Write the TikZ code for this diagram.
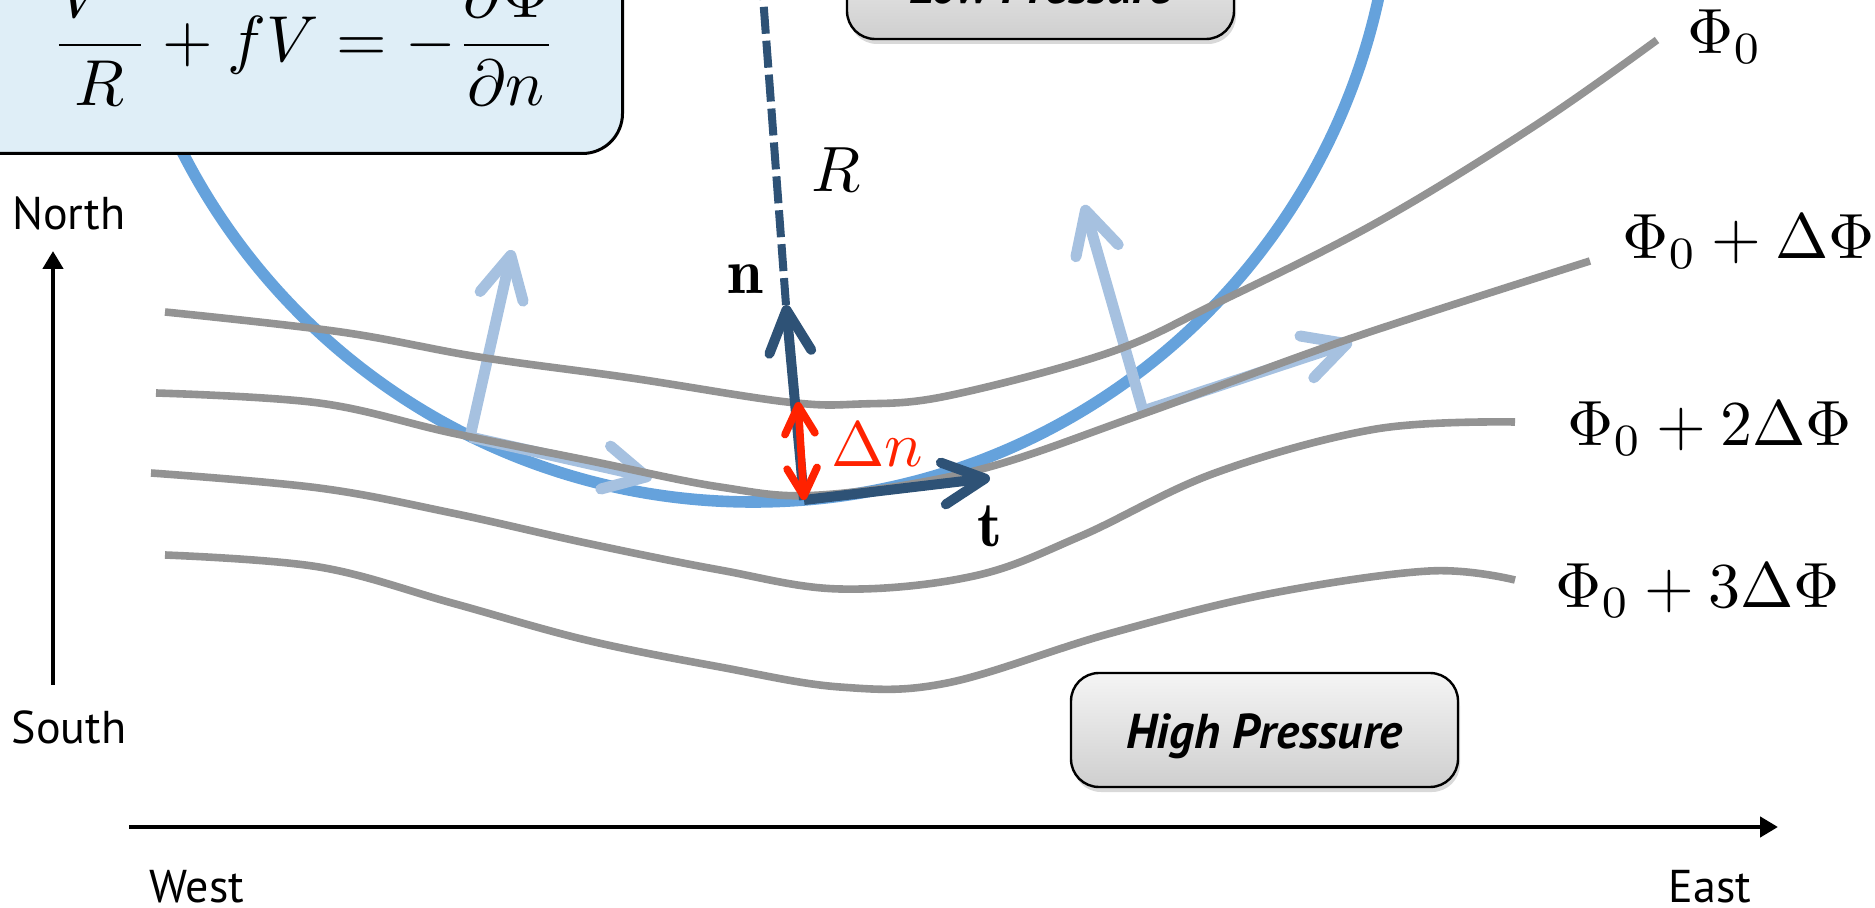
\documentclass[tikz,border=0pt]{standalone}
\usepackage{graphicx}
\usepackage{fontspec}
\newfontfamily\ptsans{PT Sans}
\usetikzlibrary{arrows.meta, positioning, shadows}

\definecolor{ringblue}{HTML}{65A2DC}
\definecolor{flowblue}{HTML}{A6C1E0}
\definecolor{vecblue}{HTML}{2E5276}
\definecolor{isogray}{HTML}{939393}
\definecolor{eqfill}{HTML}{DFEEF7}
\definecolor{dnred}{HTML}{FF2200}

\newcommand{\bigmath}[1]{\scalebox{3.2}{$#1$}}

\tikzset{
	isobar/.style={isogray, line width=3.8pt}
}
\tikzset{
	flowvec/.style={flowblue, line width=5.5pt, -{Straight Barb[length=21pt,width=22pt,round]}},
	unitvec/.style={vecblue, line width=5pt, -{Straight Barb[length=21pt,width=21pt,round]}}
}
\tikzset{
	mathtext/.style={inner sep=0pt},
	philabel/.style={mathtext, anchor=base west},
	compass/.style={font=\ptsans\fontsize{23}{28}\selectfont},
	axisarrow/.style={black, line width=2.4pt, -{Triangle[length=9pt,width=10pt]}}
}
\tikzset{
	pressbox/.style={draw, line width=1.2pt, rounded corners=14pt,
		minimum width=193.5pt, minimum height=57pt,
		top color=gray!8, bottom color=gray!38,
		drop shadow={opacity=0.3, shadow xshift=1pt, shadow yshift=-2.5pt},
		font=\ptsans\bfseries\itshape\fontsize{24.5}{29}\selectfont},
	eqbox/.style={draw, line width=1.5pt, fill=eqfill, rounded corners=20pt,
		minimum width=330pt, minimum height=140pt}
}

\begin{document}
\begin{tikzpicture}[x=0.5pt, y=-0.5pt]
  \useasboundingbox (0,0) rectangle (1875,908);
  \clip (0,0) rectangle (1875,908);

  % circle of curvature
  \coordinate (ctr) at (753,-138);
  \draw[ringblue, line width=5.8pt] (ctr) circle[radius=640];

  % wind vectors
  \coordinate (wbase) at (470,437);
  \coordinate (wup) at (512,250);
  \coordinate (wright) at (652,478);
  \coordinate (ebase) at (1143,411);
  \coordinate (eup) at (1084,205);
  \coordinate (eright) at (1352,342);
  \draw[flowvec] (wbase) -- (wup);
  \draw[flowvec] (wbase) -- (wright);
  \draw[flowvec] (ebase) -- (eup);
  \draw[flowvec] (ebase) -- (eright);

  % geopotential lines
  \draw[isobar] plot[smooth, tension=0.6] coordinates {(165,312) (341,332) (479,357) (631,378) (787,402) (860,404) (947,396) (1108,353) (1215,304) (1376,223) (1536,125) (1657,40)};
  \draw[isobar] plot[smooth, tension=0.6] coordinates {(156,393) (319,403) (452,433) (586,460) (720,487) (820,495) (974,471) (1140,415) (1349,339) (1590,261)};
  \draw[isobar] plot[smooth, tension=0.6] coordinates {(151,473) (319,488) (452,513) (586,543) (720,570) (840,589) (974,576) (1081,536) (1215,473) (1376,429) (1515,422)};
  \draw[isobar] plot[smooth, tension=0.6] coordinates {(165,555) (319,567) (452,603) (586,640) (720,667) (840,687) (947,683) (1108,634) (1268,594) (1429,571) (1515,580)};

  \node[philabel] (phi0) at (1687,54) {\bigmath{\Phi_0}};
  \node[philabel] (phi1) at (1622,259) {\bigmath{\Phi_0+\Delta\Phi}};
  \node[philabel] (phi2) at (1567,446) {\bigmath{\Phi_0+2\Delta\Phi}};
  \node[philabel] (phi3) at (1555,608) {\bigmath{\Phi_0+3\Delta\Phi}};

  % natural coordinates
  \coordinate (base) at (804,500);
  \coordinate (ntip) at (786,305);
  \coordinate (ttip) at (990,478);
  \coordinate (dntop) at (798,402);
  \draw[vecblue, line width=4pt, dash pattern=on 13.5pt off 3.5pt] (ntip) -- (ctr);
  \draw[unitvec] (base) -- (ntip);
  \draw[unitvec] (base) -- (ttip);
  \draw[dnred, line width=3.8pt, {Straight Barb[length=14pt,width=15pt,round]}-{Straight Barb[length=14pt,width=15pt,round]}] (dntop) -- (base);

  \node[mathtext] (rlab) at (836,170) {\bigmath{R}};
  \node[mathtext] (nlab) at (745,279) {\bigmath{\mathbf{n}}};
  \node[mathtext] (tlab) at (990,526) {\bigmath{\mathbf{t}}};
  \node[mathtext, text=dnred] (dnlab) at (877,445) {\bigmath{\Delta n}};

  % boxes
  \node[eqbox, anchor=south east] (eqframe) at (624,155) {};
  \node[mathtext] (eq) at (304,35) {\scalebox{3.25}{$\displaystyle\frac{V^2}{R}+fV=-\frac{\partial\Phi}{\partial n}$}};
  \node[pressbox, text height=21.5pt] (low) at (1040.5,-18) {Low Pressure};
  \node[pressbox, text height=24pt] (high) at (1264.5,730) {High Pressure};

  % compass
  \node[compass] (north) at (69,213) {North};
  \node[compass] (south) at (69,727) {South};
  \node[compass] (west) at (197,887) {West};
  \node[compass] (east) at (1710,887) {East};
  \coordinate (nsfoot) at (53,685);
  \coordinate (nshead) at (53,251);
  \coordinate (wefoot) at (129,827);
  \coordinate (wehead) at (1778,827);
  \draw[axisarrow] (nsfoot) -- (nshead);
  \draw[axisarrow] (wefoot) -- (wehead);
\end{tikzpicture}
\end{document}
